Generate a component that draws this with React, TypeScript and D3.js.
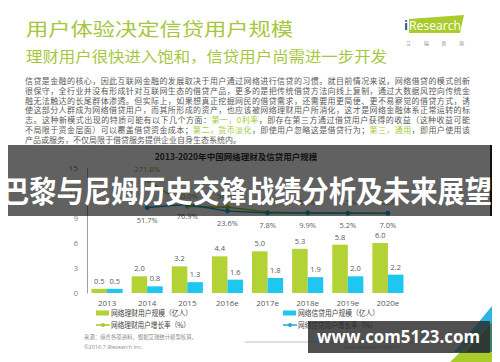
import * as d3 from "d3";
import { useEffect, useRef } from "react";

// chart data
const years = ["2013", "2014", "2015", "2016e", "2017e", "2018e", "2019e", "2020e"];
const wealthUsers = [0.5, 2.0, 3.2, 4.4, 5.0, 5.3, 5.8, 6.0];
const creditUsers = [0.5, 0.8, 1.3, 1.6, 1.8, 1.9, 2.0, 2.2];
const wealthGrowth = [null, 271.8, 60.0, 54.7, 15.1, 5.6, 8.5, 4.2];
const creditGrowth = [null, 51.7, 76.9, 23.6, 7.8, 9.9, 5.2, 7.0];
const yTicks = [0, 3, 6, 9, 12, 15];
const seriesKeys = ["wealth", "credit"];
const legendLabels = [
  "网络理财用户规模（亿人）",
  "网络信贷用户规模（亿人）",
  "网络理财用户增长率（%）",
  "网络信贷用户增长率（%）",
];

const paragraph = [
  [["信贷是金融的核心，因此互联网金融的发展取决于用户通过网络进行信贷的习惯。就目前情况来说，网络借贷的模式创新", false]],
  [["很保守，全行业并没有形成针对互联网生态的借贷产品，更多的是把传统借贷方法向线上复制，通过大数据风控向传统金", false]],
  [["融无法触达的长尾群体渗透。但实际上，如果想真正挖掘网民的借贷需求，还需要用更简便、更不易察觉的借贷方式，诱", false]],
  [["使这部分人群成为网络借贷用户，而其所形成的资产，也应该被网络理财用户所消化，这才是网络金融体系正常运转的标", false]],
  [
    ["志。这种新模式出现的特质可能有以下几个方面：", false],
    ["第一，0利率", true],
    ["，即存在第三方通过借贷用户获得的收益（这种收益可能", false],
  ],
  [
    ["不局限于资金层面）可以覆盖借贷资金成本；", false],
    ["第二，货币淡化", true],
    ["，即使用户忽略这是借贷行为；", false],
    ["第三，通用", true],
    ["，即用户使用该", false],
  ],
  [["产品或服务，不仅局限于借贷服务提供企业自身生态系统内。", false]],
];

const GREEN = "#b2d235";
const BLUE = "#1fc6ef";
const GREEN_LINE = "#a9c62c";
const BLUE_LINE = "#1aa9d4";
const TITLE_GREEN = "#a6c73c";
const CJK = "'Noto Sans CJK SC', 'Noto Sans', sans-serif";

const App = () => {
  const width = 500,
    height = 362,
    plotTop = 168,
    plotBottom = 293,
    plotLeft = 87,
    plotRight = 408;

  const gx = useRef(null);
  const gy = useRef(null);

  const x = d3
    .scaleBand(years, [plotLeft, plotRight])
    .paddingInner(0.225)
    .paddingOuter(0.1125);
  const xSub = d3.scaleBand(seriesKeys, [0, x.bandwidth()]);
  const y = d3.scaleLinear([0, 15], [plotBottom, plotTop]);
  const yRate = d3.scaleLinear([-632, 368], [plotBottom, plotTop]);
  const cx = (i) => x(years[i]) + x.bandwidth() / 2;

  const rateLine = d3
    .line()
    .defined((d) => d != null)
    .x((d, i) => cx(i))
    .y((d) => yRate(d));

  useEffect(() => {
    const g = d3
      .select(gy.current)
      .call(d3.axisLeft(y).tickValues(yTicks).tickSize(0).tickSizeOuter(0).tickPadding(9));
    g.attr("font-family", "'Open Sans', sans-serif").attr("font-size", 8);
    g.select(".domain").attr("stroke", "#a0a0a0");
    g.selectAll("text").attr("fill", "#808080");
  }, [gy, y]);

  useEffect(() => {
    const g = d3
      .select(gx.current)
      .call(d3.axisBottom(x).tickSize(0).tickPadding(7));
    g.attr("font-family", "'Open Sans', sans-serif").attr("font-size", 8);
    g.select(".domain").remove();
    g.selectAll("text").attr("fill", "#595959");
  }, [gx, x]);

  return (
    <svg
      width={width}
      height={height}
      style={{ position: "absolute", left: 0, top: 0, background: "#fff" }}
    >
      {/* header */}
      <text x={26} y={36} fill={TITLE_GREEN} fontFamily={CJK} fontSize={18}
        textLength={267} lengthAdjust="spacingAndGlyphs">
        用户体验决定信贷用户规模
      </text>
      <text x={26} y={62} fill={TITLE_GREEN} fontFamily={CJK} fontSize={14.5}
        textLength={361} lengthAdjust="spacingAndGlyphs">
        理财用户很快进入饱和，信贷用户尚需进一步开发
      </text>

      {/* logo */}
      <polygon points="409,19 464,15 460,33 409,33" fill="#a9cc2c" />
      <text x={404} y={30} fontFamily="'Open Sans', sans-serif" fontSize={13}
        fill="#2b4b9b" fontWeight="bold">i</text>
      <text x={409} y={30} fontFamily="'Open Sans', sans-serif" fontSize={12.5}
        fill="#fff" textLength={52} lengthAdjust="spacingAndGlyphs">Research</text>
      <text x={406} y={45} fontFamily={CJK} fontSize={5} fill="#888"
        textLength={58} lengthAdjust="spacing">艾瑞咨询</text>

      {/* paragraph */}
      <g fontFamily={CJK} fontSize={8} fill="#595959">
        {paragraph.map((line, i) => (
          <text key={i} x={25} y={84 + i * 9.8}
            textLength={i < paragraph.length - 1 ? 445 : undefined}
            lengthAdjust="spacing">
            {line.map(([t, hi], j) => (
              <tspan key={j} fill={hi ? TITLE_GREEN : "#595959"}>{t}</tspan>
            ))}
          </text>
        ))}
      </g>

      {/* chart */}
      <text x={236} y={160} textAnchor="middle" fontFamily={CJK} fontSize={8.5}
        fontWeight="bold" fill="#333">
        2013-2020年中国网络理财及信贷用户规模
      </text>
      <g ref={gy} transform={`translate(${plotLeft},0)`} />
      <g ref={gx} transform={`translate(0,${plotBottom})`} />

      <g>
        {years.map((yr, i) => (
          <g key={yr} transform={`translate(${x(yr)},0)`}>
            <rect x={xSub("wealth")} y={y(wealthUsers[i])} width={xSub.bandwidth()}
              height={y(0) - y(wealthUsers[i])} fill={GREEN} />
            <rect x={xSub("credit")} y={y(creditUsers[i])} width={xSub.bandwidth()}
              height={y(0) - y(creditUsers[i])} fill={BLUE} />
          </g>
        ))}
      </g>
      <g fontFamily="'Open Sans', sans-serif" fontSize={7.5} fill="#595959" textAnchor="middle">
        {years.map((yr, i) => (
          <g key={yr}>
            <text x={x(yr) + xSub("wealth") + xSub.bandwidth() / 2} y={y(wealthUsers[i]) - 5}>
              {wealthUsers[i].toFixed(1)}
            </text>
            <text x={x(yr) + xSub("credit") + xSub.bandwidth() / 2} y={y(creditUsers[i]) - 5}>
              {creditUsers[i].toFixed(1)}
            </text>
          </g>
        ))}
      </g>

      {/* growth lines */}
      <path d={rateLine(wealthGrowth)} fill="none" stroke={GREEN_LINE} strokeWidth={1.5} />
      <path d={rateLine(creditGrowth)} fill="none" stroke={BLUE_LINE} strokeWidth={1.5} />
      {wealthGrowth.map((v, i) =>
        v == null ? null : (
          <g key={"w" + i}>
            <circle cx={cx(i)} cy={yRate(v)} r={2.2} fill={GREEN_LINE} />
            <text x={cx(i)} y={yRate(v) - 8} textAnchor="middle"
              fontFamily="'Open Sans', sans-serif" fontSize={7.5} fill="#8fa83a">
              {v.toFixed(1)}%
            </text>
          </g>
        ),
      )}
      {creditGrowth.map((v, i) =>
        v == null ? null : (
          <g key={"c" + i}>
            <circle cx={cx(i)} cy={yRate(v)} r={2.4} fill={BLUE_LINE} />
            <text x={cx(i)} y={yRate(v) + 15} textAnchor="middle"
              fontFamily="'Open Sans', sans-serif" fontSize={7.5} fill="#595959">
              {v.toFixed(1)}%
            </text>
          </g>
        ),
      )}

      {/* legend */}
      <g fontFamily={CJK} fontSize={7.5} fill="#404040">
        <rect x={96} y={310.5} width={13} height={5} fill={GREEN} />
        <text x={111} y={316} textLength={81} lengthAdjust="spacingAndGlyphs">{legendLabels[0]}</text>
        <rect x={283} y={310.5} width={13} height={5} fill={BLUE} />
        <text x={298} y={316} textLength={81} lengthAdjust="spacingAndGlyphs">{legendLabels[1]}</text>
        <line x1={96} x2={110} y1={325} y2={325} stroke={GREEN_LINE} strokeWidth={1.5} />
        <circle cx={103} cy={325} r={2} fill={GREEN_LINE} />
        <text x={111} y={328} textLength={79} lengthAdjust="spacingAndGlyphs">{legendLabels[2]}</text>
        <line x1={283} x2={297} y1={325} y2={325} stroke={BLUE_LINE} strokeWidth={1.5} />
        <circle cx={290} cy={325} r={2} fill={BLUE_LINE} />
        <text x={298} y={328} textLength={79} lengthAdjust="spacingAndGlyphs">{legendLabels[3]}</text>
      </g>

      {/* footer */}
      <text x={84} y={339} fontFamily={CJK} fontSize={5.5} fill="#8c8c8c"
        textLength={113} lengthAdjust="spacingAndGlyphs">
        来源：综合各项资料，根据艾瑞统计模型核算。
      </text>
      <text x={84} y={349} fontFamily="'Open Sans', sans-serif" fontSize={5.5} fill="#8c8c8c">
        ©2016.7 iResearch Inc.
      </text>
      <line x1={245} x2={492} y1={342} y2={342} stroke="#b0b0b0" strokeWidth={0.8} />
      <text x={372} y={349} textAnchor="middle" fontFamily="'Open Sans', sans-serif"
        fontSize={5.5} fill="#8c8c8c">www.iresearch.com.cn</text>
      <polygon points="492,306 492,352 454,352" fill="#2bb5e0" />
      <polygon points="492,322 492,362 450,362" fill="#a9cc2c" />
      <polygon points="492,322 492,352 466,352" fill="#1f6f78" opacity={0.8} />
      <text x={476} y={351} fontFamily="'Open Sans', sans-serif" fontSize={6} fill="#9a9a9a">11</text>

      {/* banner overlay */}
      <rect x={8} y={145} width={484} height={71} fill="#000" opacity={0.62} />
      <rect x={490} y={145} width={2} height={71} fill="#111" />
      <text x={2} y={202} fontFamily={CJK} fontWeight="bold" fontSize={30} fill="#fff"
        textLength={490} lengthAdjust="spacingAndGlyphs">
        巴黎与尼姆历史交锋战绩分析及未来展望
      </text>

      {/* watermark */}
      <rect x={308} y={321} width={182} height={32} fill="#2a2a2a" opacity={0.82} />
      <text x={317} y={343} fontFamily="'Open Sans', sans-serif" fontWeight="bold"
        fontSize={17} fill="#fff" textLength={163} lengthAdjust="spacingAndGlyphs">
        www.com5123.com
      </text>
    </svg>
  );
};

export default App;
